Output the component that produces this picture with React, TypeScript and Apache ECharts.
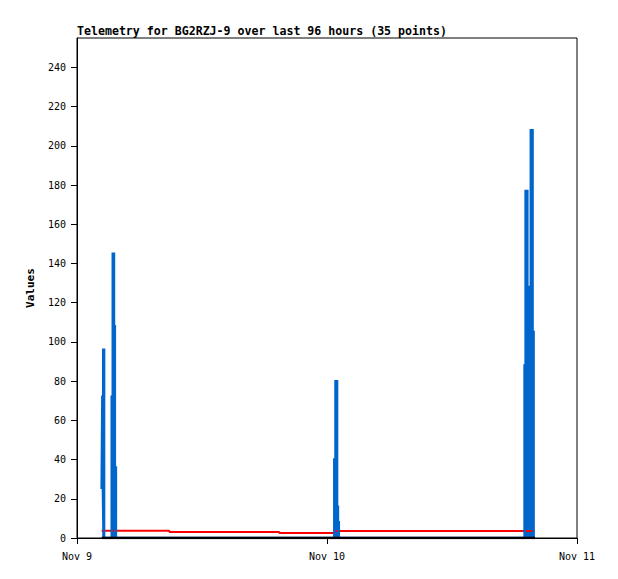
import React, { useEffect, useRef } from "react";
import * as echarts from "echarts";

const times = [
  "2024-11-09T02:22:00Z",
  "2024-11-09T02:26:00Z",
  "2024-11-09T02:31:00Z",
  "2024-11-09T02:36:00Z",
  "2024-11-09T03:20:00Z",
  "2024-11-09T03:26:00Z",
  "2024-11-09T03:33:00Z",
  "2024-11-09T03:38:00Z",
  "2024-11-09T03:44:00Z",
  "2024-11-09T08:52:00Z",
  "2024-11-09T19:25:00Z",
  "2024-11-10T00:42:00Z",
  "2024-11-10T00:49:00Z",
  "2024-11-10T00:58:00Z",
  "2024-11-10T01:03:00Z",
  "2024-11-10T01:08:00Z",
  "2024-11-10T18:58:00Z",
  "2024-11-10T19:04:00Z",
  "2024-11-10T19:14:00Z",
  "2024-11-10T19:26:00Z",
  "2024-11-10T19:34:00Z",
  "2024-11-10T19:44:00Z",
  "2024-11-10T19:50:00Z",
  "2024-11-10T19:58:00Z",
];

const blueValues = [25, 72, 96, 0, 72, 145, 108, 36, 0, 0, 0, 40, 80, 16, 8, 0, 88, 177, 128, 25, 208, 105, 0, 0];
const redValues = [3.7, 3.7, 3.7, 3.7, 3.7, 3.7, 3.7, 3.7, 3.7, 3.0, 2.5, 3.6, 3.6, 3.6, 3.6, 3.6, 3.6, 3.6, 3.6, 3.6, 3.6, 3.6, 3.6, 3.6];
const blackValues = [0, 0, 0, 0, 0, 0, 0, 0, 0, 0, 0, 0, 0, 0, 0, 0, 0, 0, 0, 0, 0, 0, 0, 0];

const xStart = "2024-11-09T00:00:00Z";
const xEnd = "2024-11-11T00:00:00Z";
const months = ["Jan", "Feb", "Mar", "Apr", "May", "Jun", "Jul", "Aug", "Sep", "Oct", "Nov", "Dec"];

const titleText = "Telemetry for BG2RZJ-9 over last 96 hours (35 points)";
const yName = "Values";

export default function App() {
  const ref = useRef<HTMLDivElement>(null);
  useEffect(() => {
    if (!ref.current) return;
    const chart = echarts.init(ref.current, null, { renderer: "svg" });
    const ts = times.map((t) => Date.parse(t));
    const mk = (vals: number[]) => ts.map((t, i) => [t, vals[i]]);
    const mono = "DejaVu Sans Mono";
    chart.setOption({
      animation: false,
      backgroundColor: "#ffffff",
      title: {
        text: titleText,
        left: 77,
        top: 25,
        textStyle: { fontFamily: mono, fontWeight: "bold", fontSize: 11.6, color: "#000" },
        padding: 0,
      },
      grid: {
        left: 77,
        top: 38,
        width: 500,
        height: 500,
        show: true,
        borderColor: "#000",
        borderWidth: 1,
        backgroundColor: "transparent",
      },
      xAxis: {
        type: "value",
        min: Date.parse(xStart),
        max: Date.parse(xEnd),
        interval: 86400000,
        axisLine: { show: true, lineStyle: { color: "#000", width: 1 } },
        axisTick: { show: true, length: 6, lineStyle: { color: "#000" } },
        splitLine: { show: false },
        axisLabel: {
          margin: 13,
          color: "#000",
          fontFamily: mono,
          fontSize: 10,
          formatter: (v: number) => {
            const d = new Date(v);
            return months[d.getUTCMonth()] + " " + d.getUTCDate();
          },
        },
      },
      yAxis: {
        type: "value",
        min: 0,
        max: 255,
        interval: 20,
        name: yName,
        nameLocation: "middle",
        nameGap: 41,
        nameRotate: 90,
        nameTextStyle: { fontFamily: mono, fontWeight: "bold", fontSize: 11, color: "#000" },
        axisLine: { show: true, lineStyle: { color: "#000", width: 1 } },
        axisTick: { show: true, length: 6, lineStyle: { color: "#000" } },
        splitLine: { show: false },
        axisLabel: {
          margin: 11,
          color: "#000",
          fontFamily: mono,
          fontSize: 10,
          showMaxLabel: false,
        },
      },
      series: [
        {
          type: "line",
          step: "end",
          data: mk(redValues),
          showSymbol: false,
          lineStyle: { color: "#ff0000", width: 2 },
          itemStyle: { color: "#ff0000" },
        },
        {
          type: "line",
          step: "end",
          data: mk(blueValues),
          showSymbol: false,
          lineStyle: { color: "#0066cc", width: 2.5, join: "miter" },
          itemStyle: { color: "#0066cc" },
          areaStyle: { color: "#0066cc", opacity: 1 },
        },
        {
          type: "line",
          step: "end",
          data: mk(blackValues),
          showSymbol: false,
          lineStyle: { color: "#000000", width: 2.5 },
          itemStyle: { color: "#000000" },
        },
      ],
    });
    return () => chart.dispose();
  }, []);
  return (
    <div
      ref={ref}
      style={{ position: "fixed", left: 0, top: 0, width: 618, height: 579, background: "#fff" }}
    />
  );
}
